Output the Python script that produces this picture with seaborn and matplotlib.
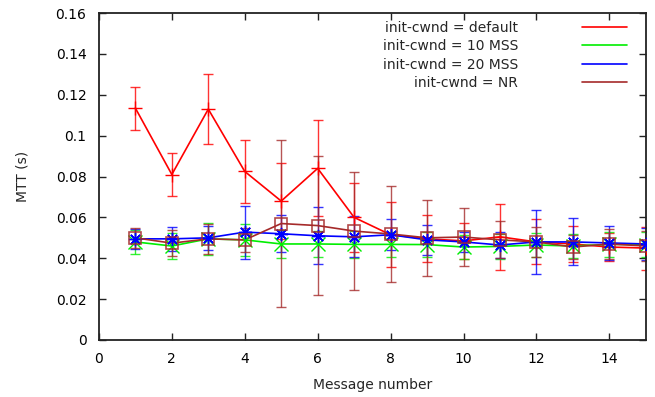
import numpy as np
import pandas as pd
import matplotlib
matplotlib.use("Agg")
import matplotlib.pyplot as plt
import seaborn as sns

# ==============================
# DATA
# ==============================
msg = [1, 2, 3, 4, 5, 6, 7, 8, 9, 10, 11, 12, 13, 14, 15]

default_mtt = [0.1135, 0.081, 0.113, 0.0825, 0.068, 0.084, 0.060, 0.0515,
               0.0495, 0.0485, 0.0505, 0.048, 0.047, 0.0455, 0.045]
default_err = [0.0105, 0.0105, 0.017, 0.0155, 0.0186, 0.0235, 0.017, 0.016,
               0.0115, 0.0087, 0.016, 0.011, 0.009, 0.007, 0.0105]

mss10_mtt = [0.048, 0.046, 0.0495, 0.049, 0.047, 0.047, 0.0468, 0.0468,
             0.0467, 0.0455, 0.0458, 0.0465, 0.046, 0.0468, 0.0467]
mss10_err = [0.006, 0.0065, 0.008, 0.008, 0.007, 0.0065, 0.0065, 0.006,
             0.006, 0.006, 0.006, 0.006, 0.006, 0.006, 0.006]

mss20_mtt = [0.0495, 0.0495, 0.050, 0.0528, 0.052, 0.051, 0.0505, 0.0515,
             0.049, 0.048, 0.0465, 0.048, 0.048, 0.0475, 0.047]
mss20_err = [0.005, 0.006, 0.006, 0.013, 0.009, 0.014, 0.010, 0.0075,
             0.0075, 0.005, 0.0065, 0.0155, 0.0115, 0.0085, 0.008]

nr_mtt = [0.050, 0.0474, 0.0495, 0.049, 0.057, 0.056, 0.0533, 0.0519,
          0.050, 0.0504, 0.049, 0.048, 0.0455, 0.047, 0.046]
nr_err = [0.005, 0.0065, 0.0075, 0.006, 0.041, 0.034, 0.0288, 0.0233,
          0.0185, 0.0143, 0.009, 0.0075, 0.0057, 0.0075, 0.0075]

labels = ["init-cwnd = default", "init-cwnd = 10 MSS",
          "init-cwnd = 20 MSS", "init-cwnd = NR"]
colors = ["#ff0000", "#00ee00", "#0000ff", "#a52a2a"]
markers = ["+", "x", (8, 2, 0), "s"]

series = [(default_mtt, default_err), (mss10_mtt, mss10_err),
          (mss20_mtt, mss20_err), (nr_mtt, nr_err)]

# ==============================
# PLOT
# ==============================
sns.set_style("ticks")
plt.rcParams["font.family"] = ["DejaVu Sans"]
plt.rcParams["font.size"] = 10

fig = plt.figure(figsize=(6.55, 3.97), dpi=100)
ax = fig.add_axes([0.151, 0.1436, 0.835, 0.8234])

for (vals, errs), lab, col, mk in zip(series, labels, colors, markers):
    df = pd.DataFrame({"msg": msg, "mtt": vals})
    ax.errorbar(msg, vals, yerr=errs, fmt="none", ecolor=col,
                elinewidth=1, capsize=3.5, capthick=1, alpha=0.8, zorder=2)
    sns.lineplot(data=df, x="msg", y="mtt", color=col, linewidth=1.2,
                 label=lab, ax=ax, zorder=3)
    if mk == "s":
        ax.plot(msg, vals, linestyle="none", marker="s", markersize=8.5,
                markerfacecolor="none", markeredgecolor=col,
                markeredgewidth=1.2, alpha=0.85, zorder=4)
    else:
        ax.plot(msg, vals, linestyle="none", marker=mk, markersize=9.5,
                color=col, markeredgewidth=1.0, zorder=4)

ax.set_xlim(0, 15)
ax.set_ylim(0, 0.16)
ax.set_xticks(np.arange(0, 15, 2))
yt = np.arange(0, 0.161, 0.02)
ax.set_yticks(yt)
ax.set_yticklabels(["%g" % round(v, 2) for v in yt])
ax.set_xlabel("Message number", labelpad=8.5)
ax.set_ylabel("MTT (s)", labelpad=18.5)

for sp in ax.spines.values():
    sp.set_visible(True)
    sp.set_linewidth(1.3)
    sp.set_color("#222222")
ax.tick_params(direction="in", length=5, width=1, top=True, right=True,
               colors="#222222", labelcolor="black", pad=9)

ax.legend(loc="upper right", bbox_to_anchor=(0.965, 0.977), frameon=False,
          markerfirst=False, handlelength=3.2, handletextpad=4.6,
          labelspacing=0.32, borderaxespad=0, borderpad=0, fontsize=10)

plt.savefig("out.png", dpi=100)
plt.close()
